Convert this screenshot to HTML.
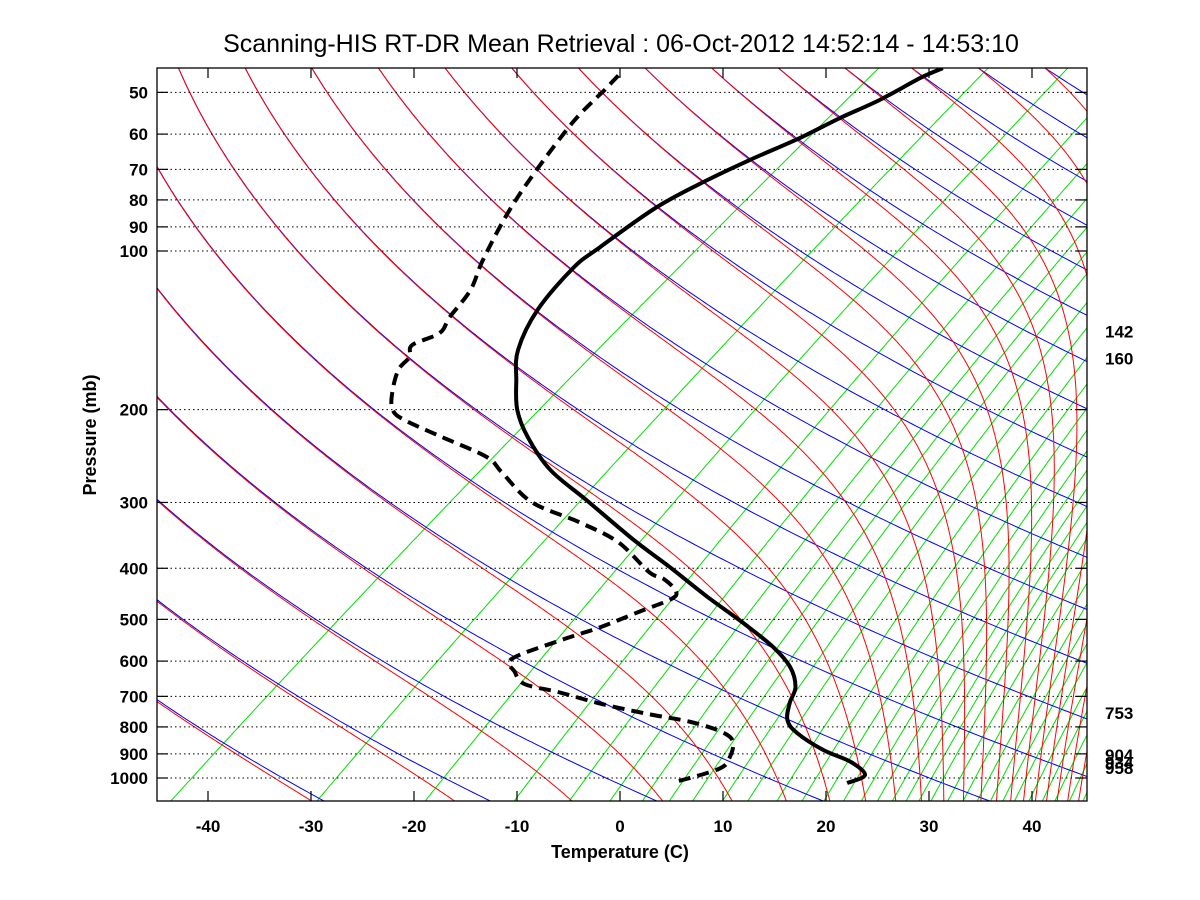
<!DOCTYPE html>
<html><head><meta charset="utf-8"><style>
html,body{margin:0;padding:0;background:#fff;}
svg{display:block;font-family:"Liberation Sans",sans-serif;}
</style></head><body>
<svg id="chart" width="1200" height="900" viewBox="0 0 1200 900" xmlns="http://www.w3.org/2000/svg">
<rect width="1200" height="900" fill="#fff"/>
<text x="621" y="52" text-anchor="middle" font-size="25">Scanning-HIS RT-DR Mean Retrieval : 06-Oct-2012 14:52:14 - 14:53:10</text>
<defs><clipPath id="clip"><rect x="157" y="68" width="930" height="733"/></clipPath></defs>
<g id="bg" clip-path="url(#clip)"></g>
<g id="grid"></g>
<g id="data" clip-path="url(#clip)"></g>
<rect x="157" y="68" width="930" height="733" fill="none" stroke="#000" stroke-width="1.3"/>
<g id="axes"></g>
<text x="620" y="858" text-anchor="middle" font-size="18" font-weight="bold">Temperature (C)</text>
<text x="0" y="0" transform="translate(96,435) rotate(-90)" text-anchor="middle" font-size="18" font-weight="bold">Pressure (mb)</text>
</svg>
<script>
// ---- data ----
const tempP = [1022,987,932,885,821,776,720,672,616,564,508,453,398,353,297,260,225,200,176,154,129.4,107.7,98.3,82.5,73.3,67.2,61.0,55.9,51.7,46.9,45.0];
const tempC = [22.7,23.4,20.3,16.1,11.3,8.7,6.7,5.2,2.1,-2.2,-8.2,-15.1,-22.6,-29.7,-39.4,-46.9,-53.4,-57.9,-61.8,-65.6,-68.9,-70.9,-71.0,-70.7,-69.3,-67.8,-65.8,-64.5,-63.0,-61.9,-61.0];
const dewP = [1013,961.4,920.3,854.4,817.8,783,756,723.7,686.9,663.3,629.3,594.6,549.5,517,482.2,457.5,441.8,419.4,406.4,356.6,326.8,299.4,262.7,246,225,209,200,186,168.2,158.9,150.8,143.1,133.4,118.6,104,84.7,70.2,56.9,51.0,49.5,45.7];
const dewC = [6.1,8.4,8.1,6.3,3.9,-0.4,-5.6,-11.4,-17.2,-21.5,-24.0,-26.0,-23.8,-21.5,-19.7,-18.3,-18.9,-21.6,-24.0,-30.9,-37.3,-44.5,-51.3,-54.7,-61.8,-67.6,-70.0,-72.2,-74.6,-75.2,-76.5,-75.4,-76.5,-78.0,-80.7,-84.4,-87.2,-89.9,-90.8,-91.0,-91.7];
const xTicks = [-40,-30,-20,-10,0,10,20,30,40];
const pTicks = [50,60,70,80,90,100,200,300,400,500,600,700,800,900,1000];
const sideLabels = [142,160,753,904,934,958];
const mixRatios = [0.1,0.4,1,2,3,4,5,6,7,8.5,10,12,14,16,18,20,22,24,26,28,30,33,36,39,42,45,48,52,56,60,65,70,75];

// ---- axis functions ----
const SKEW=1.34, Y1000=778;
function yP(p){return 251+527*Math.log10(p/100);}
function xTP(T,p){return 620+10.3*T+SKEW*(Y1000-yP(p));}
const NS="http://www.w3.org/2000/svg";
function mk(tag,attrs,parent){const e=document.createElementNS(NS,tag);for(const k in attrs)e.setAttribute(k,attrs[k]);parent.appendChild(e);return e;}
const bg=document.getElementById('bg'),grid=document.getElementById('grid'),dataG=document.getElementById('data'),axes=document.getElementById('axes');
function pathFrom(pts){return pts.map((q,i)=>(i?'L':'M')+q[0].toFixed(1)+' '+q[1].toFixed(1)).join('');}
function smoothPath(pts){
  let d='M'+pts[0][0].toFixed(1)+' '+pts[0][1].toFixed(1);
  for(let i=0;i<pts.length-1;i++){
    const p0=pts[Math.max(i-1,0)],p1=pts[i],p2=pts[i+1],p3=pts[Math.min(i+2,pts.length-1)];
    const c1=[p1[0]+(p2[0]-p0[0])/6,p1[1]+(p2[1]-p0[1])/6];
    const c2=[p2[0]-(p3[0]-p1[0])/6,p2[1]-(p3[1]-p1[1])/6];
    d+='C'+c1[0].toFixed(1)+' '+c1[1].toFixed(1)+' '+c2[0].toFixed(1)+' '+c2[1].toFixed(1)+' '+p2[0].toFixed(1)+' '+p2[1].toFixed(1);
  }
  return d;
}
const pLevels=[];for(let lp=Math.log(1120);lp>=Math.log(40);lp-=0.01)pLevels.push(Math.exp(lp));

// mixing ratio lines (green)
mixRatios.forEach(w=>{
  const pts=pLevels.map(p=>{const e=w*p/(622+w);const l=Math.log(e/6.112);const Td=243.5*l/(17.67-l);return [xTP(Td,p),yP(p)];});
  const el=mk('path',{d:pathFrom(pts),fill:'none',stroke:'#00e000','stroke-width':1},bg);
  
  
});
// dry & moist adiabats
const Rd=287,cp=1005,Lv=2.5e6,PTOP=45;
for(let n=-1;n<=22;n++){
  const th=240.4+15.7*n;
  const dry=pLevels.map(p=>[xTP(th*Math.pow(p/1000,0.2857)-273.15,p),yP(p)]);
  const d=mk('path',{d:pathFrom(dry),fill:'none',stroke:'#0000ff','stroke-width':1},bg);
  
  
  let T=th*Math.pow(PTOP/1000,0.2857),p=PTOP;const moist=[[xTP(T-273.15,p),yP(p)]];
  const dl=0.005;
  while(p<1120){
    const es=6.112*Math.exp(17.67*(T-273.15)/(T-29.65));const r=0.622*es/Math.max(p-es,1);
    const g=(Rd*T+Lv*r)/(cp+Lv*Lv*r*0.622/(Rd*T*T));
    T+=g*dl;p*=Math.exp(dl);moist.push([xTP(T-273.15,p),yP(p)]);
  }
  const m=mk('path',{d:pathFrom(moist),fill:'none',stroke:'#ff0000','stroke-width':1},bg);
  
  
}
// grid & ticks
pTicks.forEach(p=>{
  const y=yP(p);
  const g=mk('line',{x1:157,x2:1087,y1:y,y2:y,stroke:'#000','stroke-width':1,'stroke-dasharray':'1.5 3'},grid);
  
  
  mk('line',{x1:157,x2:168,y1:y,y2:y,stroke:'#000','stroke-width':1.2},axes);
  mk('line',{x1:1076,x2:1087,y1:y,y2:y,stroke:'#000','stroke-width':1.2},axes);
  const t=mk('text',{x:148,y:y+6,'text-anchor':'end','font-size':17,'font-weight':'bold'},axes);
  t.textContent=p;
  
  
});
xTicks.forEach(T=>{
  const x=620+10.3*T;
  mk('line',{x1:x,x2:x,y1:801,y2:791,stroke:'#000','stroke-width':1.2},axes);
  mk('line',{x1:x,x2:x,y1:68,y2:78,stroke:'#000','stroke-width':1.2},axes);
  const t=mk('text',{x:x,y:832,'text-anchor':'middle','font-size':17,'font-weight':'bold'},axes);
  t.textContent=T;
  
  
});
sideLabels.forEach(p=>{
  const t=mk('text',{x:1105,y:yP(p)+6,'font-size':17,'font-weight':'bold'},axes);
  t.textContent=p;
  
  
});
// profiles
const dp=mk('path',{d:smoothPath(dewP.map((p,i)=>[xTP(dewC[i],p),yP(p)])),fill:'none',stroke:'#000','stroke-width':4,'stroke-dasharray':'12 7','stroke-linejoin':'round'},dataG);


const tp=mk('path',{d:smoothPath(tempP.map((p,i)=>[xTP(tempC[i],p),yP(p)])),fill:'none',stroke:'#000','stroke-width':4,'stroke-linejoin':'round'},dataG);


</script>
</body></html>
